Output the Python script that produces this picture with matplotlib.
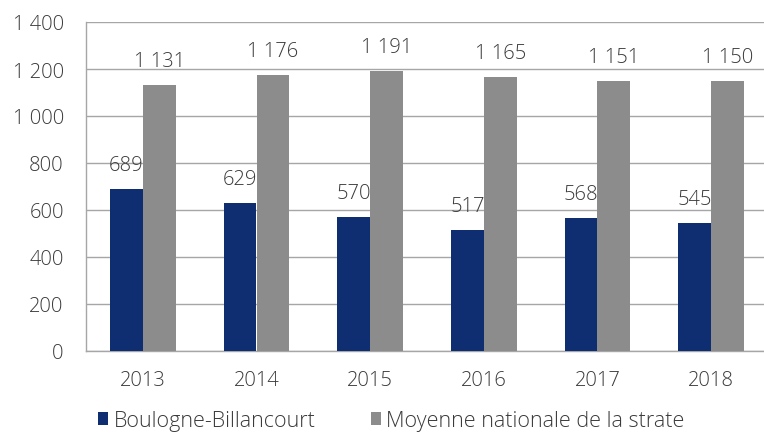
import matplotlib
matplotlib.use("Agg")
import matplotlib.pyplot as plt
import numpy as np

years = ["2013", "2014", "2015", "2016", "2017", "2018"]
boulogne = [689, 629, 570, 517, 568, 545]
moyenne = [1131, 1176, 1191, 1165, 1151, 1150]
yticks = [0, 200, 400, 600, 800, 1000, 1200, 1400]
series_names = ["Boulogne-Billancourt", "Moyenne nationale de la strate"]

plt.rcParams['font.family'] = ['Open Sans', 'DejaVu Sans']
plt.rcParams['font.weight'] = 'light'
txt = '#3A3A3A'
c_blue = '#0F2E72'
c_gray = '#8C8C8C'
fs = 14.5

fig = plt.figure(figsize=(7.64, 4.35), dpi=100)
ax = fig.add_axes([86/764, (435-352)/435, (768-86)/764, (352-23)/435])

x = np.arange(len(years))
w = 0.29
ax.bar(x - w/2, boulogne, w, color=c_blue, zorder=3, label=series_names[0])
ax.bar(x + w/2, moyenne, w, color=c_gray, zorder=3, label=series_names[1])

def fmt(v):
    return f"{v:,}".replace(",", " ")

for xi, v in zip(x - w/2, boulogne):
    ax.annotate(fmt(v), (xi, v), xytext=(0, 10), textcoords='offset points',
                ha='center', va='bottom', fontsize=fs, color=txt)
for xi, v in zip(x + w/2, moyenne):
    ax.annotate(fmt(v), (xi, v), xytext=(0, 10), textcoords='offset points',
                ha='center', va='bottom', fontsize=fs, color=txt)

ax.set_xlim(-0.5, len(years) - 0.5)
ax.set_ylim(0, 1400)
ax.set_yticks(yticks)
ax.set_yticklabels([fmt(t) for t in yticks], fontsize=fs, color=txt)
ax.set_xticks(x)
ax.set_xticklabels(years, fontsize=fs, color=txt)
ax.tick_params(axis='both', length=0)
ax.tick_params(axis='y', pad=16)
ax.tick_params(axis='x', pad=14)
ax.grid(axis='y', color='#A6A6A6', linewidth=1.0, zorder=0)
for s in ['top', 'right']:
    ax.spines[s].set_visible(False)
ax.spines['left'].set_color('#A6A6A6')
ax.spines['bottom'].set_color('#A6A6A6')
ax.spines['left'].set_linewidth(1.0)
ax.spines['bottom'].set_linewidth(1.0)

leg = fig.legend(loc='lower left', bbox_to_anchor=(79/764, -0.038), ncol=2,
                 frameon=False, fontsize=15.5, handlelength=0.45, handleheight=0.6,
                 handletextpad=0.25, columnspacing=2.6, labelcolor=txt)

fig.savefig("out.png", dpi=100)
